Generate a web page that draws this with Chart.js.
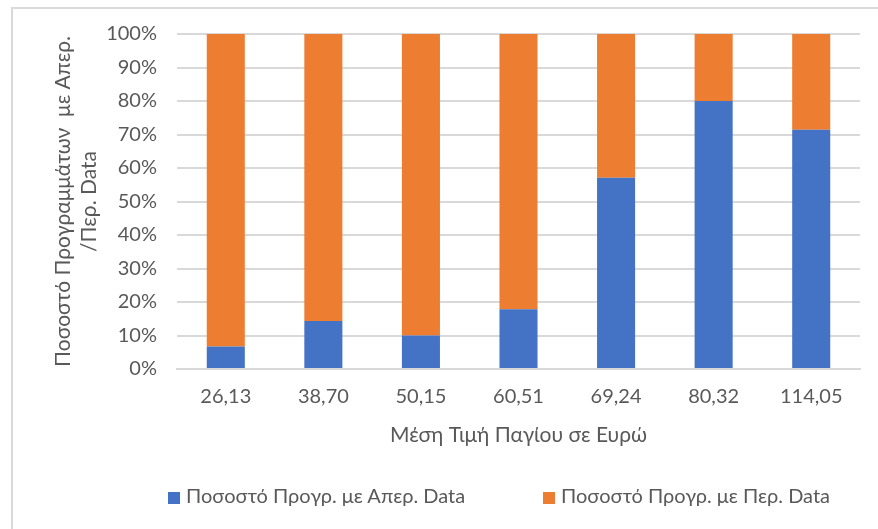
<!DOCTYPE html>
<html>
<head>
<meta charset="utf-8">
<script src="https://cdn.jsdelivr.net/npm/chart.js@4.4.1/dist/chart.umd.min.js"></script>
<style>
  html, body { margin: 0; padding: 0; background: #fff; overflow: hidden; }
  #frame {
    position: absolute; left: 11px; top: 7px; width: 900px; height: 560px;
    border: 2px solid #d9d9d9; box-sizing: border-box;
  }
  #wrap { position: absolute; left: 0; top: 0; width: 878px; height: 529px; }
  .leg {
    position: absolute; top: 483px; height: 24px; line-height: 24px;
    font: 20px Lato, 'Open Sans', sans-serif; color: #595959; white-space: nowrap;
  }
  .leg span.box {
    display: inline-block; width: 12px; height: 12px; margin-right: 6px;
    vertical-align: -1px;
  }
</style>
</head>
<body>
<div id="frame"></div>
<div id="wrap"><canvas id="chart"></canvas></div>
<div id="legend"></div>
<script>
// Μέση τιμή παγίου (κατηγορίες)
const categories = ["26,13", "38,70", "50,15", "60,51", "69,24", "80,32", "114,05"];
// ποσοστά (%)
const aperData = [6.7, 14.3, 10, 17.8, 57.1, 80, 71.4];
const perData = [93.3, 85.7, 90, 82.2, 42.9, 20, 28.6];
const seriesNames = ["Ποσοστό Προγρ. με Απερ. Data", "Ποσοστό Προγρ. με Περ. Data"];
const seriesColors = ["#4472c4", "#ed7d31"];

const textColor = "#595959";
const gridColor = "#d9d9d9";
const fontFamily = "Lato, 'Open Sans', sans-serif";

// legend (html, κάτω από το γράφημα)
const legendLeft = [168, 543];
const legendEl = document.getElementById("legend");
seriesNames.forEach((name, i) => {
  const item = document.createElement("div");
  item.className = "leg";
  item.style.left = legendLeft[i] + "px";
  const box = document.createElement("span");
  box.className = "box";
  box.style.background = seriesColors[i];
  item.appendChild(box);
  item.appendChild(document.createTextNode(name));
  legendEl.appendChild(item);
});

new Chart(document.getElementById("chart").getContext("2d"), {
  type: "bar",
  data: {
    labels: categories,
    datasets: [
      {
        label: seriesNames[0],
        data: aperData,
        backgroundColor: seriesColors[0],
        barPercentage: 0.39,
        categoryPercentage: 1,
      },
      {
        label: seriesNames[1],
        data: perData,
        backgroundColor: seriesColors[1],
        barPercentage: 0.39,
        categoryPercentage: 1,
      },
    ],
  },
  options: {
    responsive: true,
    maintainAspectRatio: false,
    animation: false,
    layout: {
      padding: { left: 51, right: 18, top: 34, bottom: 81 },
    },
    plugins: {
      tooltip: { enabled: false },
      legend: { display: false },
    },
    scales: {
      x: {
        stacked: true,
        afterFit: (scale) => {
          scale.height = 79;
        },
        grid: { display: false },
        border: { color: gridColor, width: 2 },
        ticks: {
          color: textColor,
          font: { family: fontFamily, size: 20 },
          padding: 8,
        },
        title: {
          display: true,
          text: "Μέση Τιμή Παγίου σε Ευρώ",
          color: textColor,
          font: { family: fontFamily, size: 21 },
          padding: { top: 12, bottom: 0 },
        },
      },
      y: {
        stacked: true,
        min: 0,
        max: 100,
        afterFit: (scale) => {
          scale.width = 126;
        },
        grid: { color: gridColor, lineWidth: 2, drawTicks: false },
        border: { display: false },
        ticks: {
          stepSize: 10,
          color: textColor,
          font: { family: fontFamily, size: 20 },
          padding: 20,
          callback: (v) => v + "%",
        },
        title: {
          display: true,
          text: ["Ποσοστό Προγραμμάτων  με Απερ.", "/Περ. Data"],
          color: textColor,
          font: { family: fontFamily, size: 21 },
          padding: { top: 0, bottom: 0 },
        },
      },
    },
  },
});
</script>
</body>
</html>
